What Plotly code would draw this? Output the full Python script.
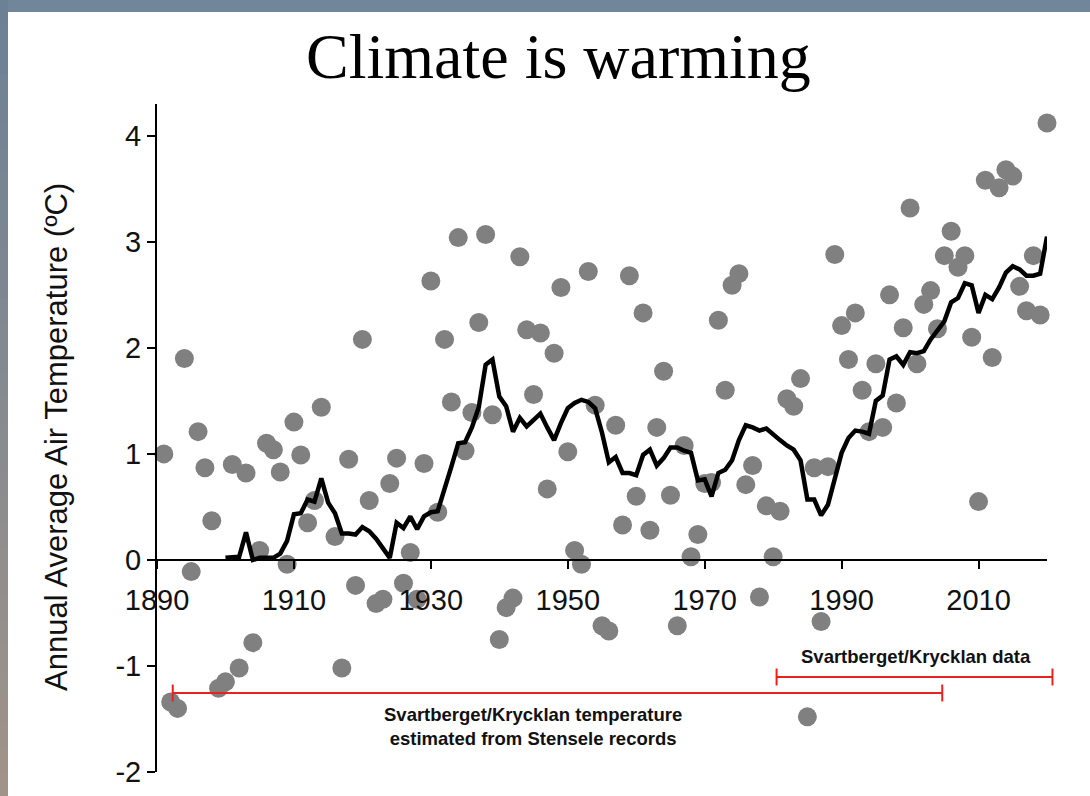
import plotly.graph_objects as go

# Annual mean air temperature (degC), one value per year
years = [1891, 1892, 1893, 1894, 1895, 1896, 1897, 1898, 1899, 1900,
         1901, 1902, 1903, 1904, 1905, 1906, 1907, 1908, 1909, 1910,
         1911, 1912, 1913, 1914, 1916, 1917, 1918, 1919, 1920,
         1921, 1922, 1923, 1924, 1925, 1926, 1927, 1928, 1929, 1930,
         1931, 1932, 1933, 1934, 1935, 1936, 1937, 1938, 1939, 1940,
         1941, 1942, 1943, 1944, 1945, 1946, 1947, 1948, 1949, 1950,
         1951, 1952, 1953, 1954, 1955, 1956, 1957, 1958, 1959, 1960,
         1961, 1962, 1963, 1964, 1965, 1966, 1967, 1968, 1969, 1970,
         1971, 1972, 1973, 1974, 1975, 1976, 1977, 1978, 1979, 1980,
         1981, 1982, 1983, 1984, 1985, 1986, 1987, 1988, 1989, 1990,
         1991, 1992, 1993, 1994, 1995, 1996, 1997, 1998, 1999, 2000,
         2001, 2002, 2003, 2004, 2005, 2006, 2007, 2008, 2009, 2010,
         2011, 2012, 2013, 2014, 2015, 2016, 2017, 2018, 2019, 2020]
annual_temp = [1.00, -1.34, -1.40, 1.90, -0.11, 1.21, 0.87, 0.37, -1.21, -1.15,
               0.90, -1.02, 0.82, -0.78, 0.09, 1.10, 1.04, 0.83, -0.04, 1.30,
               0.99, 0.35, 0.56, 1.44, 0.22, -1.02, 0.95, -0.24, 2.08,
               0.56, -0.41, -0.37, 0.72, 0.96, -0.22, 0.07, -0.37, 0.91, 2.63,
               0.45, 2.08, 1.49, 3.04, 1.03, 1.39, 2.24, 3.07, 1.37, -0.75,
               -0.45, -0.36, 2.86, 2.17, 1.56, 2.14, 0.67, 1.95, 2.57, 1.02,
               0.09, -0.04, 2.72, 1.46, -0.62, -0.67, 1.27, 0.33, 2.68, 0.60,
               2.33, 0.28, 1.25, 1.78, 0.61, -0.62, 1.08, 0.03, 0.24, 0.72,
               0.73, 2.26, 1.60, 2.59, 2.70, 0.71, 0.89, -0.35, 0.51, 0.03,
               0.46, 1.52, 1.45, 1.71, -1.48, 0.87, -0.58, 0.88, 2.88, 2.21,
               1.89, 2.33, 1.60, 1.21, 1.85, 1.25, 2.50, 1.48, 2.19, 3.32,
               1.85, 2.41, 2.54, 2.18, 2.87, 3.10, 2.76, 2.87, 2.10, 0.55,
               3.58, 1.91, 3.51, 3.68, 3.62, 2.58, 2.35, 2.87, 2.31, 4.12]

# Running mean of the annual series
mean_years = list(range(1900, 2021))
running_mean = [0.02, 0.03, 0.03, 0.26, 0.00, 0.02, 0.02, 0.02, 0.06, 0.18,
                0.43, 0.44, 0.57, 0.55, 0.77, 0.54, 0.44, 0.25, 0.25, 0.24,
                0.31, 0.27, 0.20, 0.11, 0.02, 0.35, 0.30, 0.41, 0.29, 0.41,
                0.45, 0.46, 0.66, 0.88, 1.10, 1.11, 1.25, 1.44, 1.84, 1.89,
                1.54, 1.45, 1.21, 1.34, 1.26, 1.32, 1.38, 1.25, 1.13, 1.29,
                1.43, 1.48, 1.51, 1.49, 1.43, 1.20, 0.92, 0.97, 0.82, 0.82,
                0.80, 0.99, 1.04, 0.89, 0.96, 1.06, 1.06, 1.03, 1.01, 0.75,
                0.76, 0.60, 0.82, 0.85, 0.94, 1.13, 1.27, 1.25, 1.22, 1.24,
                1.18, 1.13, 1.08, 1.04, 0.94, 0.57, 0.57, 0.42, 0.52, 0.78,
                1.01, 1.15, 1.22, 1.21, 1.19, 1.50, 1.55, 1.89, 1.92, 1.84,
                1.96, 1.95, 1.97, 2.08, 2.17, 2.25, 2.43, 2.47, 2.61, 2.59,
                2.33, 2.50, 2.46, 2.57, 2.71, 2.77, 2.74, 2.68, 2.68, 2.70,
                3.05]

x_ticks = [1890, 1910, 1930, 1950, 1970, 1990, 2010]
y_ticks = [-2, -1, 0, 1, 2, 3, 4]

# Period brackets: (start year, end year, bracket level, label y, label x, label)
periods = [
    (1892.3, 2004.7, -1.255, -1.575, 1944.9,
     "Svartberget/Krycklan temperature<br>estimated from Stensele records"),
    (1980.5, 2020.8, -1.104, -0.915, 2000.9, "Svartberget/Krycklan data"),
]

X_RANGE = [1890, 2020]
Y_RANGE = [-2, 4.3]
W, H = 1090, 796
ML, MR, MT, MB = 157, 43, 104, 24
PW, PH = W - ML - MR, H - MT - MB

SANS = "Liberation Sans, Arial, sans-serif"
SERIF = "Liberation Serif, Times New Roman, serif"


def px_to_paper(px, py):
    return (px - ML) / PW, (H - MB - py) / PH


def data_to_paper(xv, yv):
    return ((xv - X_RANGE[0]) / (X_RANGE[1] - X_RANGE[0]),
            (yv - Y_RANGE[0]) / (Y_RANGE[1] - Y_RANGE[0]))


fig = go.Figure()

fig.add_trace(go.Scatter(
    x=years, y=annual_temp, mode="markers",
    marker=dict(size=19, color="#808080", line=dict(width=0)),
    cliponaxis=False, showlegend=False, hoverinfo="x+y"))

fig.add_trace(go.Scatter(
    x=mean_years, y=running_mean, mode="lines",
    line=dict(color="black", width=4.5),
    cliponaxis=False, showlegend=False, hoverinfo="x+y"))

shapes = []

# Slide frame: grey-blue strip along the top, graded strip down the left edge
x0, y0 = px_to_paper(0, 0)
x1, y1 = px_to_paper(W, 12)
shapes.append(dict(type="rect", xref="paper", yref="paper", x0=x0, x1=x1,
                   y0=y1, y1=y0, fillcolor="#71869b", line=dict(width=0),
                   layer="below"))
top_rgb = (108, 129, 150)
bot_rgb = (160, 147, 137)
n_bands = 32
for i in range(n_bands):
    t = i / (n_bands - 1)
    c = tuple(int(round(a + (b - a) * t)) for a, b in zip(top_rgb, bot_rgb))
    pa = H * i / n_bands
    pb = H * (i + 1) / n_bands + 1
    bx0, by0 = px_to_paper(0, pa)
    bx1, by1 = px_to_paper(8, pb)
    shapes.append(dict(type="rect", xref="paper", yref="paper", x0=bx0,
                       x1=bx1, y0=by1, y1=by0,
                       fillcolor="rgb(%d,%d,%d)" % c, line=dict(width=0),
                       layer="below"))

# Red period brackets with end caps
cap = 0.08
red = "#e8231f"
annotations = []
for xs, xe, lvl, ty, tx, label in periods:
    ax0, ay = data_to_paper(xs, lvl)
    ax1, _ = data_to_paper(xe, lvl)
    _, cy0 = data_to_paper(xs, lvl - cap)
    _, cy1 = data_to_paper(xs, lvl + cap)
    shapes.append(dict(type="line", xref="paper", yref="paper", x0=ax0,
                       x1=ax1, y0=ay, y1=ay, line=dict(color=red, width=2)))
    for ex in (ax0, ax1):
        shapes.append(dict(type="line", xref="paper", yref="paper", x0=ex,
                           x1=ex, y0=cy0, y1=cy1,
                           line=dict(color=red, width=2)))
    annotations.append(dict(x=tx, y=ty, xref="x", yref="y",
                            text="<b>%s</b>" % label,
                            showarrow=False, align="center",
                            xanchor="center", yanchor="middle",
                            font=dict(family=SANS, size=18.5, color="#111111")))

# Title and y-axis title
tx, ty = px_to_paper(558, 56)
annotations.append(dict(x=tx, y=ty, xref="paper", yref="paper",
                        xanchor="center", yanchor="middle",
                        text="Climate is warming", showarrow=False,
                        font=dict(family=SERIF, size=64, color="black")))
lx, ly = px_to_paper(56, 437)
annotations.append(dict(x=lx, y=ly, xref="paper", yref="paper",
                        xanchor="center", yanchor="middle",
                        text="Annual Average Air Temperature (ºC)",
                        textangle=-90, showarrow=False,
                        font=dict(family=SANS, size=31, color="#111111")))

zero_pos = (0 - Y_RANGE[0]) / (Y_RANGE[1] - Y_RANGE[0])

fig.update_layout(
    template="none",
    width=W, height=H, autosize=False,
    margin=dict(l=ML, r=MR, t=MT, b=MB, pad=0),
    paper_bgcolor="white", plot_bgcolor="white",
    showlegend=False,
    shapes=shapes,
    annotations=annotations,
    xaxis=dict(range=X_RANGE, tickvals=x_ticks,
               ticktext=[str(v) for v in x_ticks],
               ticks="outside", ticklen=8, tickwidth=2, tickcolor="black",
               ticklabelstandoff=6,
               showline=True, linecolor="black", linewidth=2,
               showgrid=False, zeroline=False, anchor="free",
               position=zero_pos, automargin=False,
               tickfont=dict(family=SANS, size=29, color="#111111")),
    yaxis=dict(range=Y_RANGE, tickvals=y_ticks,
               ticktext=[str(v) for v in y_ticks],
               ticks="outside", ticklen=8, tickwidth=2, tickcolor="black",
               showline=True, linecolor="black", linewidth=2,
               showgrid=False, zeroline=False, automargin=False,
               tickfont=dict(family=SANS, size=29, color="#111111")),
)

fig.write_html("out.html")
